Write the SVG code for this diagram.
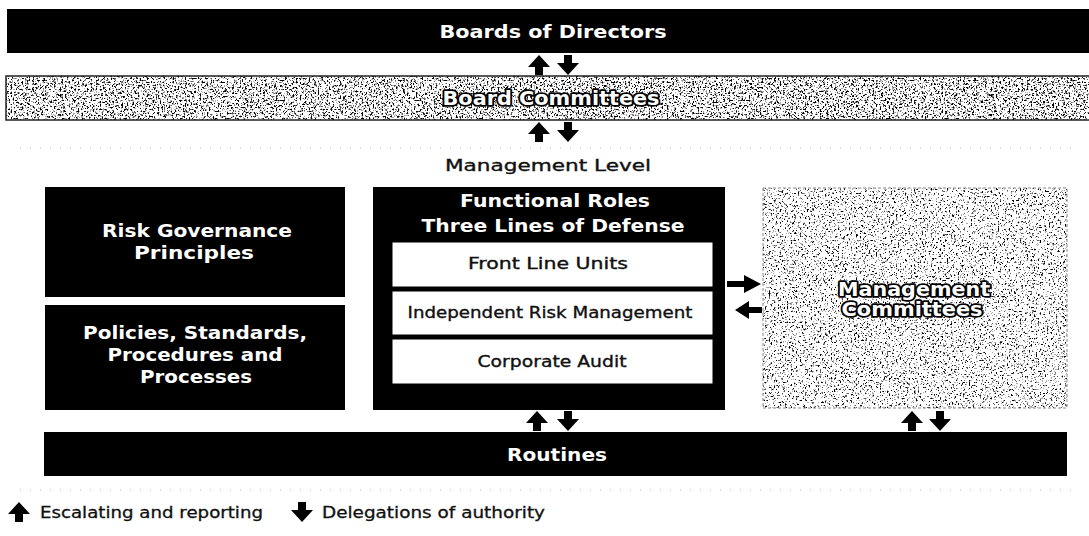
<svg xmlns="http://www.w3.org/2000/svg" width="1089" height="536" viewBox="0 0 1089 536">
  <style>
    .white-title { fill: #fff; font-family: "DejaVu Sans", "Liberation Sans", sans-serif; font-weight: bold; font-size: 18px; text-anchor: middle; }
    .hollow { fill: #fff; stroke: #000; stroke-width: 3.5; stroke-linejoin: round; paint-order: stroke; font-family: "DejaVu Sans", "Liberation Sans", sans-serif; font-weight: bold; font-size: 19px; text-anchor: middle; }
    .inner { fill: #fff; stroke: #000; stroke-width: 1; }
    .label { fill: #111; stroke: #111; stroke-width: 0.35; font-family: "DejaVu Sans", "Liberation Sans", sans-serif; font-size: 15px; text-anchor: middle; }
    .legend { fill: #111; stroke: #111; stroke-width: 0.3; font-family: "DejaVu Sans", "Liberation Sans", sans-serif; font-size: 15px; }
    .arrow { fill: #000; }
    .dots { fill: none; stroke: #bbb; stroke-width: 1; stroke-dasharray: 1 9; }
  </style>
  <defs>
    <!-- grainy speckle fills -->
    <filter id="grainDense" x="0" y="0" width="100%" height="100%">
      <feTurbulence type="fractalNoise" baseFrequency="0.55" numOctaves="3" seed="4" result="t"/>
      <feColorMatrix in="t" type="matrix" values="0 0 0 0 0  0 0 0 0 0  0 0 0 0 0  1 0 0 0 0" result="a"/>
      <feComponentTransfer in="a" result="dots">
        <feFuncA type="discrete" tableValues="0 0 0 0 0 0 0 0 0 0 0 0.6 0.9 1 1 1 1 1 1 1"/>
      </feComponentTransfer>
      <feComposite in="dots" in2="SourceGraphic" operator="over" result="m"/>
      <feComposite in="m" in2="SourceAlpha" operator="in"/>
    </filter>
    <filter id="grainLight" x="0" y="0" width="100%" height="100%">
      <feTurbulence type="fractalNoise" baseFrequency="0.55" numOctaves="3" seed="9" result="t"/>
      <feColorMatrix in="t" type="matrix" values="0 0 0 0 0  0 0 0 0 0  0 0 0 0 0  1 0 0 0 0" result="a"/>
      <feComponentTransfer in="a" result="dots">
        <feFuncA type="discrete" tableValues="0 0 0 0 0 0 0 0 0 0 0 0 0.6 0.9 1 1 1 1 1 1"/>
      </feComponentTransfer>
      <feComposite in="dots" in2="SourceGraphic" operator="over" result="m"/>
      <feComposite in="m" in2="SourceAlpha" operator="in"/>
    </filter>
    <!-- block arrows, tip at the origin -->
    <path id="up" d="M0,0 L11,12 L4,12 L4,20 L-4,20 L-4,12 L-11,12 Z"/>
    <path id="down" d="M0,0 L11,-12 L4,-12 L4,-20 L-4,-20 L-4,-12 L-11,-12 Z"/>
    <path id="right" d="M0,0 L-17,-9 L-17,-3 L-34,-3 L-34,3 L-17,3 L-17,9 Z"/>
    <path id="left" d="M0,0 L14,-9 L14,-3 L27,-3 L27,3 L14,3 L14,9 Z"/>
  </defs>

  <rect width="1089" height="536" fill="#fff"/>

  <!-- faint guide dots -->
  <line class="dots" x1="20" y1="148" x2="1080" y2="148"/>
  <line class="dots" x1="20" y1="490" x2="1080" y2="490"/>

  <g id="board-of-directors">
    <rect x="7" y="9" width="1090" height="44" fill="#000"/>
    <text class="white-title" x="553" y="38" textLength="227" lengthAdjust="spacingAndGlyphs">Boards of Directors</text>
  </g>

  <g id="board-committees">
    <rect x="6" y="76" width="1090" height="44" fill="#fff" filter="url(#grainDense)"/>
    <rect x="6" y="76" width="1090" height="44" fill="none" stroke="#222" stroke-width="1.5"/>
    <text class="hollow" x="551" y="105" textLength="217" lengthAdjust="spacingAndGlyphs">Board Committees</text>
  </g>

  <g id="management-level">
    <text class="label" x="548" y="171" font-size="18" textLength="206" lengthAdjust="spacingAndGlyphs">Management Level</text>
  </g>

  <g id="risk-governance">
    <rect x="45" y="187" width="300" height="110" fill="#000"/>
    <text class="white-title" x="197" y="237" textLength="190" lengthAdjust="spacingAndGlyphs">Risk Governance</text>
    <text class="white-title" x="194" y="259" textLength="120" lengthAdjust="spacingAndGlyphs">Principles</text>
  </g>

  <g id="policies">
    <rect x="45" y="305" width="300" height="105" fill="#000"/>
    <text class="white-title" x="195" y="339" textLength="224" lengthAdjust="spacingAndGlyphs">Policies, Standards,</text>
    <text class="white-title" x="195" y="361" textLength="175" lengthAdjust="spacingAndGlyphs">Procedures and</text>
    <text class="white-title" x="196" y="383" textLength="112" lengthAdjust="spacingAndGlyphs">Processes</text>
  </g>

  <g id="functional-roles">
    <rect x="373" y="187" width="352" height="223" fill="#000"/>
    <text class="white-title" x="555" y="207" textLength="190" lengthAdjust="spacingAndGlyphs">Functional Roles</text>
    <text class="white-title" x="553" y="232" textLength="263" lengthAdjust="spacingAndGlyphs">Three Lines of Defense</text>
  </g>
  <g id="front-line-units">
    <rect class="inner" x="392" y="242" width="321" height="45"/>
    <text class="label" x="548" y="269" textLength="160" lengthAdjust="spacingAndGlyphs">Front Line Units</text>
  </g>
  <g id="independent-risk-management">
    <rect class="inner" x="392" y="291" width="321" height="44"/>
    <text class="label" x="550" y="318" textLength="285" lengthAdjust="spacingAndGlyphs">Independent Risk Management</text>
  </g>
  <g id="corporate-audit">
    <rect class="inner" x="392" y="339" width="321" height="45"/>
    <text class="label" x="552" y="367" textLength="149" lengthAdjust="spacingAndGlyphs">Corporate Audit</text>
  </g>

  <g id="management-committees">
    <rect x="763" y="188" width="304" height="220" fill="#fff" filter="url(#grainLight)"/>
    <rect x="763" y="188" width="304" height="220" fill="none" stroke="#888" stroke-width="1" stroke-dasharray="3 2"/>
    <text class="hollow" x="914" y="296" textLength="152" lengthAdjust="spacingAndGlyphs">Management</text>
    <text class="hollow" x="912" y="316" textLength="141" lengthAdjust="spacingAndGlyphs">Committees</text>
  </g>

  <g id="routines">
    <rect x="44" y="432" width="1023" height="44" fill="#000"/>
    <text class="white-title" x="557" y="461" textLength="100" lengthAdjust="spacingAndGlyphs">Routines</text>
  </g>

  <g id="connectors">
    <!-- board of directors / board committees -->
    <use href="#up" class="arrow" x="539" y="55"/>
    <use href="#down" class="arrow" x="568" y="75"/>
    <!-- board committees / management level -->
    <use href="#up" class="arrow" x="539" y="122"/>
    <use href="#down" class="arrow" x="568" y="142"/>
    <!-- functional roles / management committees -->
    <use href="#right" class="arrow" x="761" y="284"/>
    <use href="#left" class="arrow" x="735" y="310"/>
    <!-- functional roles / routines -->
    <use href="#up" class="arrow" x="537" y="411"/>
    <use href="#down" class="arrow" x="568" y="431"/>
    <!-- management committees / routines -->
    <use href="#up" class="arrow" x="912" y="411"/>
    <use href="#down" class="arrow" x="940" y="431"/>
  </g>

  <g id="legend">
    <use href="#up" class="arrow" x="19" y="502"/>
    <text class="legend" x="40" y="518" textLength="223" lengthAdjust="spacingAndGlyphs">Escalating and reporting</text>
    <use href="#down" class="arrow" x="302" y="522"/>
    <text class="legend" x="322" y="518" textLength="223" lengthAdjust="spacingAndGlyphs">Delegations of authority</text>
  </g>
</svg>
